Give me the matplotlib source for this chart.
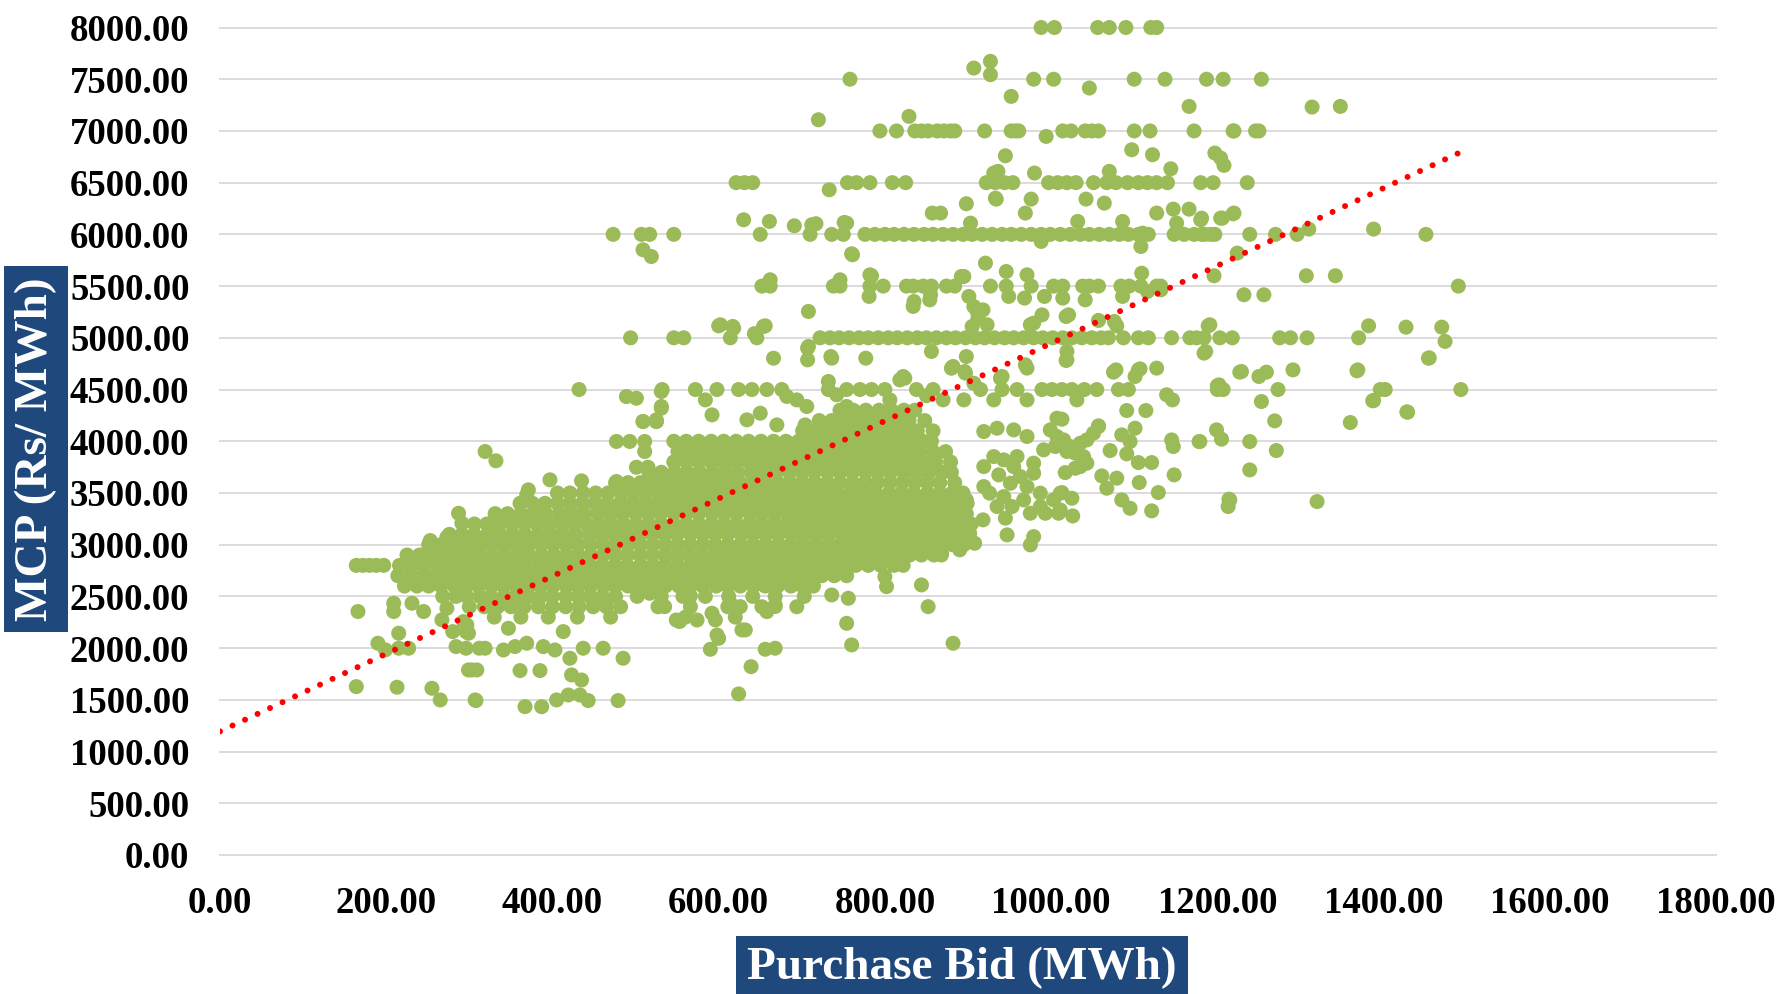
import numpy as np
import matplotlib
matplotlib.use("Agg")
import matplotlib.pyplot as plt

plt.rcParams['font.family'] = ['Liberation Serif', 'DejaVu Serif']
plt.rcParams['font.weight'] = 'bold'

# points sitting on round price levels (MCP, Rs/MWh -> purchase bids, MWh)
bids_8000 = [988, 1004, 1056, 1070, 1090, 1120, 1127]
bids_7500 = [758, 979, 1003, 1100, 1137, 1187, 1207, 1253]
bids_7000 = [794, 814, 836, 844, 852, 863, 871, 879, 884, 920, 952, 957, 961, 1014, 1024,
             1041, 1049, 1057, 1100, 1119, 1172, 1219, 1220, 1246, 1250]
bids_6500 = [621, 631, 641, 755, 766, 782, 809, 825, 922, 933, 944, 954, 997, 1008, 1019,
             1030, 1051, 1067, 1078, 1092, 1105, 1116, 1127, 1140, 1180, 1195, 1236]
bids_6000 = [473, 507, 517, 546, 650, 710, 736, 750, 776, 788, 800, 811, 823, 835, 847, 858,
             870, 882, 894, 905, 917, 929, 941, 952, 964, 976, 988, 999, 1011, 1023, 1035,
             1046, 1058, 1070, 1082, 1093, 1105, 1117, 1148, 1160, 1172, 1181, 1185, 1192,
             1197, 1239, 1270, 1296, 1451]
bids_5500 = [652, 662, 738, 746, 782, 798, 826, 834, 846, 856, 874, 884, 927, 946, 976, 1003,
             1014, 1038, 1046, 1057, 1084, 1094, 1108, 1127, 1132, 1490]
bids_5000 = [494, 546, 558, 614, 646, 722, 734, 745, 757, 769, 780, 792, 804, 815, 827, 839,
             850, 862, 874, 885, 897, 909, 920, 932, 944, 955, 967, 979, 990, 1002, 1014,
             1025, 1037, 1049, 1060, 1069, 1087, 1105, 1117, 1145, 1167, 1175, 1184, 1203,
             1218, 1275, 1288, 1308, 1370]
bids_4500 = [432, 532, 572, 598, 624, 640, 658, 676, 732, 754, 770, 784, 800, 838, 858, 915,
             941, 959, 989, 1001, 1013, 1025, 1040, 1055, 1081, 1093, 1200, 1207, 1273,
             1396, 1402, 1493]
bids_2800 = [164, 172, 180, 188, 197]

# dense core of the cloud, one row of bids per MCP level
core_mcp = [2300, 2400, 2500, 2600, 2700, 2800, 2900, 3000, 3100, 3200, 3300,
            3400, 3500, 3600, 3700, 3800, 3900, 4000, 4100, 4200, 4300]
core_bids = [
    [330, 362, 395, 430, 470, 560, 620],
    [300, 318, 334, 350, 366, 383, 400, 416, 432, 449, 465, 482, 527, 566, 611, 652, 694],
    [268, 284, 297, 313, 326, 342, 356, 371, 386, 400, 416, 431, 445, 460, 476, 502, 531,
     557, 584, 612, 641, 668, 703],
    [222, 237, 251, 266, 282, 296, 311, 327, 341, 356, 372, 386, 401, 417, 431, 446, 462,
     476, 491, 507, 521, 536, 552, 566, 581, 597, 611, 626, 642, 656, 671, 687, 701, 714],
    [214, 229, 244, 259, 274, 289, 304, 319, 334, 349, 364, 379, 394, 409, 424, 439, 454,
     469, 484, 499, 514, 529, 544, 559, 574, 589, 604, 619, 634, 649, 664, 679, 694, 709,
     724, 739, 754],
    [216, 231, 246, 262, 277, 292, 307, 323, 338, 353, 368, 384, 399, 414, 429, 445, 460,
     475, 490, 506, 521, 536, 551, 567, 582, 597, 612, 628, 643, 658, 673, 689, 704, 719,
     734, 750, 765, 780, 795, 811, 822],
    [225, 240, 254, 269, 284, 299, 313, 328, 343, 358, 372, 387, 402, 417, 431, 446, 461,
     476, 490, 505, 520, 535, 549, 564, 579, 594, 608, 623, 638, 653, 667, 682, 697, 712,
     726, 741, 756, 771, 785, 800, 815, 830, 844, 859, 868],
    [251, 266, 281, 296, 311, 326, 341, 356, 371, 386, 401, 416, 431, 446, 461, 476, 491,
     506, 521, 536, 551, 566, 581, 596, 611, 626, 641, 656, 671, 686, 701, 716, 731, 746,
     761, 776, 791, 806, 821, 836, 851, 866, 881, 895],
    [276, 291, 306, 322, 337, 352, 367, 383, 398, 413, 428, 444, 459, 474, 489, 505, 520,
     535, 550, 566, 581, 596, 611, 627, 642, 657, 672, 688, 703, 718, 733, 749, 764, 779,
     794, 810, 825, 840, 855, 871, 886, 900],
    [306, 321, 336, 351, 366, 381, 396, 411, 426, 441, 456, 471, 486, 501, 516, 531, 546,
     561, 576, 591, 606, 621, 636, 651, 666, 681, 696, 711, 726, 741, 756, 771, 786, 801,
     816, 831, 846, 861, 876, 891, 904],
    [331, 346, 362, 377, 392, 408, 423, 438, 454, 469, 484, 500, 515, 530, 546, 561, 576,
     592, 607, 622, 638, 653, 668, 684, 699, 714, 730, 745, 760, 776, 791, 806, 822, 837,
     852, 868, 883, 898],
    [361, 376, 391, 406, 421, 436, 451, 466, 481, 496, 511, 526, 541, 556, 571, 586, 601,
     616, 631, 646, 661, 676, 691, 706, 721, 736, 751, 766, 781, 796, 811, 826, 841, 856,
     871, 886, 899],
    [406, 421, 437, 452, 467, 483, 498, 513, 529, 544, 559, 575, 590, 605, 621, 636, 651,
     667, 682, 697, 713, 728, 743, 759, 774, 789, 805, 820, 835, 851, 866, 881, 894],
    [476, 491, 506, 521, 536, 551, 566, 581, 596, 611, 626, 641, 656, 671, 686, 701, 716,
     731, 746, 761, 776, 791, 806, 821, 836, 851, 866, 884],
    [516, 531, 547, 562, 577, 593, 608, 623, 639, 654, 669, 685, 700, 715, 731, 746, 761,
     777, 792, 807, 823, 838, 853, 869, 880],
    [546, 561, 576, 591, 606, 621, 636, 651, 666, 681, 696, 711, 726, 741, 756, 771, 786,
     801, 816, 831, 846, 861, 879],
    [551, 566, 582, 597, 612, 628, 643, 658, 674, 689, 704, 720, 735, 750, 766, 781, 796,
     812, 827, 842, 858, 873],
    [546, 561, 576, 591, 606, 621, 636, 651, 666, 681, 696, 711, 726, 741, 756, 771, 786,
     801, 816, 831, 846, 856],
    [701, 716, 732, 747, 762, 778, 793, 808, 824, 839, 858],
    [721, 736, 752, 767, 782, 798, 813, 829, 848],
    [746, 762, 777, 793, 808, 823, 836],
]

# scattered points (bid, mcp)
upper_pts = [
    (907, 7608), (927, 7673), (927, 7544), (1046, 7415), (952, 7334), (1166, 7237), (1314, 7231),
    (1348, 7237), (720, 7108), (829, 7141), (994, 6947), (945, 6760), (1097, 6818), (1122, 6770),
    (1197, 6786), (1204, 6738), (1208, 6667), (1144, 6634), (936, 6609), (980, 6593), (1070, 6609),
    (931, 6592), (733, 6431), (933, 6350), (898, 6296), (934, 6341), (976, 6341), (1042, 6341),
    (1064, 6302), (867, 6206), (857, 6206), (969, 6206), (1127, 6206), (1147, 6244), (1166, 6244),
    (1206, 6157), (1220, 6206), (1181, 6157), (1204, 6157), (1219, 6199), (630, 6141), (661, 6125),
    (691, 6083), (717, 6103), (751, 6115), (712, 6093), (754, 6109), (903, 6109), (1032, 6125),
    (1086, 6125), (1151, 6109), (1180, 6141), (1110, 6012), (1310, 6051), (1388, 6051), (761, 5803),
    (988, 5932), (1108, 5883), (509, 5851), (519, 5786), (760, 5812), (921, 5722), (1224, 5819),
    (946, 5641), (971, 5609), (895, 5593), (782, 5609), (1109, 5625), (1196, 5600), (1307, 5600),
    (1342, 5600), (784, 5599), (892, 5593), (662, 5561), (746, 5561), (781, 5400), (835, 5351),
    (855, 5416), (901, 5400), (911, 5255), (949, 5400), (968, 5384), (992, 5400), (1014, 5384),
    (1041, 5367), (1086, 5400), (1116, 5448), (1132, 5464), (1232, 5416), (1256, 5416), (708, 5255),
    (834, 5303), (854, 5367), (907, 5303), (989, 5222), (1018, 5206), (1191, 5126), (1076, 5158),
    (1382, 5116), (1427, 5103), (1470, 5103), (602, 5126), (618, 5093), (656, 5116), (643, 5040),
    (600, 5116), (617, 5110), (654, 5110), (1057, 5168), (1079, 5116), (1189, 5116), (1021, 5222),
    (975, 5126), (923, 5126), (905, 5110), (912, 5190), (918, 5270), (979, 5142), (1474, 4965),
    (666, 4803), (707, 4900), (707, 4787), (736, 4803), (777, 4803), (856, 4868), (898, 4819),
    (1019, 4787), (1186, 4868), (1369, 4690), (1078, 4690), (1105, 4690), (1127, 4707), (1229, 4674),
    (1250, 4626), (1291, 4690), (1202, 4545), (882, 4723), (971, 4707), (941, 4626), (822, 4626),
    (708, 4916), (735, 4819), (880, 4706), (897, 4658), (907, 4561), (1019, 4868), (969, 4739),
    (939, 4610), (896, 4674), (824, 4610), (1184, 4852), (1018, 4781), (1454, 4803), (1075, 4668),
    (1101, 4626), (1107, 4700), (1227, 4668), (1259, 4668), (1368, 4681), (1200, 4536), (1253, 4384),
    (1388, 4394), (1429, 4281), (1031, 4400), (1139, 4449), (1146, 4400), (1091, 4297), (1114, 4297),
    (1013, 4213), (1057, 4149), (1101, 4126), (1269, 4197), (1360, 4181), (489, 4432), (501, 4416),
    (531, 4336), (509, 4191), (525, 4191), (584, 4400), (682, 4433), (694, 4400), (706, 4336),
    (732, 4578), (742, 4449), (754, 4336), (806, 4400), (850, 4440), (870, 4400), (895, 4400),
    (931, 4400), (971, 4400), (531, 4320), (525, 4207), (592, 4255), (634, 4207), (650, 4271),
    (670, 4158), (704, 4158), (726, 4142), (818, 4593), (919, 4094), (935, 4126), (955, 4110),
    (971, 4046), (1007, 4223), (1387, 4391), (1428, 4284), (1455, 4806), (531, 4481),
]
right_pts = [
    (1015, 4013), (931, 3852), (937, 3675), (955, 3755), (963, 3659), (979, 3691), (971, 3562),
    (987, 3498), (943, 3465), (953, 3369), (975, 3304), (993, 3304), (926, 3498), (918, 3240),
    (945, 3256), (947, 3095), (975, 2998), (979, 3078), (1011, 3336), (1011, 3498), (908, 3014),
    (890, 2950), (902, 3111), (868, 2917), (898, 3433), (991, 3917), (943, 3820), (959, 3852),
    (979, 3788), (951, 3594), (967, 3433), (987, 3369), (1003, 3433), (935, 3369), (919, 3562),
    (919, 3755), (999, 4110), (1007, 4046), (1023, 3949), (1035, 3981), (1043, 4013), (1051, 4078),
    (1057, 4142), (1005, 3949), (1019, 3901), (1029, 3885), (1039, 3852), (1043, 3788), (1035, 3755),
    (1085, 4062), (1095, 3997), (1145, 4013), (1178, 3997), (1199, 4110), (1205, 4020), (1239, 3997),
    (1271, 3910), (1071, 3910), (1091, 3878), (1105, 3794), (1121, 3794), (1147, 3949), (1039, 3820),
    (1017, 3697), (1029, 3739), (1061, 3665), (1079, 3643), (1067, 3546), (1106, 3601), (1148, 3675),
    (1239, 3723), (1013, 3504), (1025, 3449), (1129, 3504), (1085, 3433), (1095, 3352), (1121, 3327),
    (1214, 3440), (1213, 3369), (1320, 3417), (1009, 3304), (1026, 3278), (1179, 3997), (1215, 3433),
]
left_pts = [
    (253, 3040), (273, 3072), (287, 3304), (291, 3208), (319, 3901), (332, 3811), (397, 3627),
    (435, 3617), (477, 3611), (371, 3530), (369, 3482), (379, 3240), (387, 3369), (327, 3208),
    (509, 4191), (525, 4191), (477, 3998), (493, 3998), (511, 3998), (511, 3901), (501, 3749),
    (515, 3749),
]
lower_pts = [
    (166, 2354), (164, 1628), (213, 1622), (209, 2434), (209, 2354), (231, 2434), (245, 2354),
    (215, 2144), (190, 2047), (199, 1983), (215, 1999), (227, 1999), (255, 1612), (265, 1499),
    (307, 1499), (303, 1789), (280, 2160), (296, 2160), (284, 2015), (296, 1999), (312, 1999),
    (267, 2273), (273, 2386), (293, 2257), (297, 2224), (299, 2144), (319, 1999), (341, 1982),
    (355, 2015), (369, 2047), (389, 2015), (403, 1982), (437, 1999), (461, 1999), (485, 1902),
    (421, 1902), (347, 2192), (413, 2160), (423, 1741), (435, 1692), (299, 1789), (309, 1789),
    (361, 1783), (385, 1783), (308, 1493), (367, 1434), (387, 1434), (405, 1499), (419, 1547),
    (433, 1547), (443, 1493), (479, 1493), (736, 2514), (756, 2482), (754, 2240), (852, 2401),
    (802, 2595), (800, 2691), (844, 2611), (668, 2418), (658, 2353), (626, 2401), (632, 2176),
    (598, 2127), (549, 2272), (574, 2272), (592, 2337), (535, 2401), (517, 2530), (553, 2257),
    (596, 2273), (600, 2095), (590, 1989), (614, 2434), (628, 2176), (668, 2402), (656, 1989),
    (668, 1999), (639, 1821), (624, 1557), (760, 2031), (882, 2047), (566, 2505),
]

# linear trendline as drawn (end points)
trend_bid = [0, 1494]
trend_mcp = [1195, 6800]

bid = []
mcp = []
for level, row in [(8000, bids_8000), (7500, bids_7500), (7000, bids_7000), (6500, bids_6500),
                   (6000, bids_6000), (5500, bids_5500), (5000, bids_5000), (4500, bids_4500),
                   (2800, bids_2800)]:
    bid += row
    mcp += [level] * len(row)
for level, row in zip(core_mcp, core_bids):
    bid += row
    mcp += [level] * len(row)
for pts in [upper_pts, right_pts, left_pts, lower_pts]:
    bid += [p[0] for p in pts]
    mcp += [p[1] for p in pts]

fig = plt.figure(figsize=(17.78, 9.94), dpi=100)
ax = fig.add_axes([220 / 1778, (994 - 855) / 994, 1496 / 1778, 827.5 / 994])

ax.scatter(bid, mcp, s=117, c='#9BBB59', edgecolors='none', clip_on=False, zorder=3)
ax.plot(trend_bid, trend_mcp, color='#FF0000', lw=4.3, linestyle=(0, (0.01, 2.3)),
        dash_capstyle='round', zorder=4)

ax.set_xlim(0, 1800)
ax.set_ylim(0, 8000)
ax.set_xticks(range(0, 1801, 200))
ax.set_yticks(range(0, 8001, 500))
ax.set_xticklabels([f'{v:.2f}' for v in range(0, 1801, 200)])
ax.set_yticklabels([f'{v:.2f}' for v in range(0, 8001, 500)])
ax.tick_params(length=0, pad=22, labelsize=26.5)
for s in ax.spines.values():
    s.set_visible(False)
ax.yaxis.grid(True, color='#D9D9D9', lw=1.3)
ax.set_axisbelow(True)
for line in ax.get_ygridlines():
    line.set_clip_on(False)

fig.text(36 / 1778, 1 - 449 / 994, 'MCP (Rs/ MWh)', rotation=90, ha='center', va='center',
         color='white', fontsize=34, fontweight='bold',
         bbox=dict(boxstyle='square,pad=0.23', fc='#1F497D', ec='none'))
fig.text(962 / 1778, 1 - 968 / 994, 'Purchase Bid (MWh)', ha='center', va='center',
         color='white', fontsize=34, fontweight='bold',
         bbox=dict(boxstyle='square,pad=0.23', fc='#1F497D', ec='none'))

fig.savefig('out.png', dpi=100)
